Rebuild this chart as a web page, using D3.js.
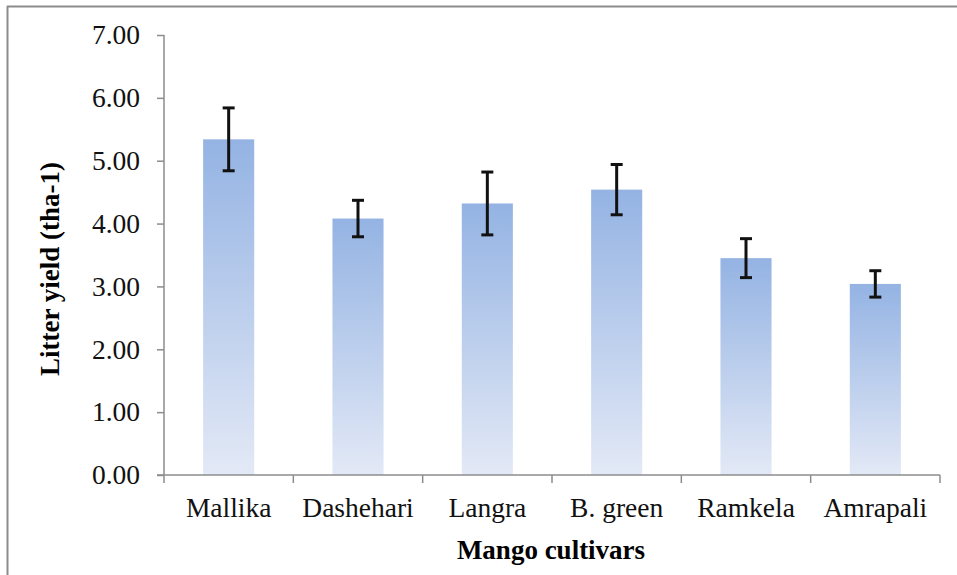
<!DOCTYPE html>
<html><head><meta charset="utf-8">
<script src="https://cdn.jsdelivr.net/npm/d3@7"></script>
<style>html,body{margin:0;padding:0;background:#fff;}svg{display:block;}</style>
</head><body>
<svg id="chart" width="957" height="575"></svg>
<script>
const categories = ["Mallika","Dashehari","Langra","B. green","Ramkela","Amrapali"];
const values = [5.34, 4.08, 4.32, 4.54, 3.45, 3.04];
const errors = [0.50, 0.29, 0.50, 0.40, 0.31, 0.21];
const yTicks = [0,1,2,3,4,5,6,7];
const yTitle = "Litter yield (tha-1)";
const xTitle = "Mango cultivars";

(function(){
const svg = d3.select("#chart");
const pL = 164, pR = 940, pT = 35, pB = 475;
const font = "'Liberation Serif','Times New Roman',serif";

// frame (top & left edges)
svg.append("line").attr("x1",7).attr("x2",957).attr("y1",6.5).attr("y2",6.5).attr("stroke","#8c8c8c").attr("stroke-width",2);
svg.append("line").attr("x1",7.5).attr("x2",7.5).attr("y1",6).attr("y2",575).attr("stroke","#8c8c8c").attr("stroke-width",2);

const defs = svg.append("defs");
const grad = defs.append("linearGradient").attr("id","barGrad").attr("x1",0).attr("x2",0).attr("y1",0).attr("y2",1);
grad.append("stop").attr("offset","0%").attr("stop-color","#94b3e3");
grad.append("stop").attr("offset","100%").attr("stop-color","#e3e9f6");

const x = d3.scaleBand().domain(categories).range([pL,pR]).paddingInner(0.605).paddingOuter(0.3025);
const y = d3.scaleLinear().domain([0,7]).range([pB,pT]);

// bars
svg.selectAll("rect.bar").data(categories).enter().append("rect")
  .attr("class","bar")
  .attr("x",d=>x(d)).attr("width",x.bandwidth())
  .attr("y",(d,i)=>y(values[i])).attr("height",(d,i)=>y(0)-y(values[i]))
  .attr("fill","url(#barGrad)");

// y axis
const yAxis = d3.axisLeft(y).tickValues(yTicks).tickFormat(d3.format(".2f")).tickSize(7).tickPadding(17);
const gy = svg.append("g").attr("transform",`translate(${pL},0)`).call(yAxis);
gy.select(".domain").attr("stroke","#8c8c8c").attr("stroke-width",1.5).attr("d",`M0,${pT}V${pB}`);
gy.selectAll(".tick line").attr("stroke","#8c8c8c").attr("stroke-width",1.5);
gy.selectAll(".tick text").attr("font-family",font).attr("font-size",27.5).attr("fill","#111");

// x axis
const xAxis = d3.axisBottom(x).tickSize(0).tickPadding(22);
const gx = svg.append("g").attr("transform",`translate(0,${pB})`).call(xAxis);
gx.select(".domain").attr("stroke","#8c8c8c").attr("stroke-width",1.5).attr("d",`M${pL-7},0H${pR}`);
gx.selectAll(".tick text").attr("font-family",font).attr("font-size",27.5).attr("fill","#111").attr("dy","0.71em");
// category boundary ticks
const bounds = categories.map(c=>x(c)-x.step()*x.paddingInner()/2).concat([pR]);
svg.append("g").selectAll("line").data(bounds).enter().append("line")
  .attr("x1",d=>d).attr("x2",d=>d).attr("y1",pB).attr("y2",pB+8)
  .attr("stroke","#8c8c8c").attr("stroke-width",1.5);

// error bars
const eg = svg.append("g").attr("stroke","#111").attr("stroke-width",3);
categories.forEach((c,i)=>{
  const cx = x(c)+x.bandwidth()/2;
  const y1 = y(values[i]+errors[i]), y2 = y(values[i]-errors[i]);
  eg.append("line").attr("x1",cx).attr("x2",cx).attr("y1",y1).attr("y2",y2);
  eg.append("line").attr("x1",cx-6).attr("x2",cx+6).attr("y1",y1).attr("y2",y1);
  eg.append("line").attr("x1",cx-6).attr("x2",cx+6).attr("y1",y2).attr("y2",y2);
});

// titles
svg.append("text").attr("x",(pL+pR)/2 - 1).attr("y",559).attr("text-anchor","middle")
  .attr("font-family",font).attr("font-weight","bold").attr("font-size",27).text(xTitle);
svg.append("text").attr("transform",`translate(59,${(pT+pB)/2+14}) rotate(-90)`).attr("text-anchor","middle")
  .attr("font-family",font).attr("font-weight","bold").attr("font-size",27).text(yTitle);
})();
</script>
</body></html>
